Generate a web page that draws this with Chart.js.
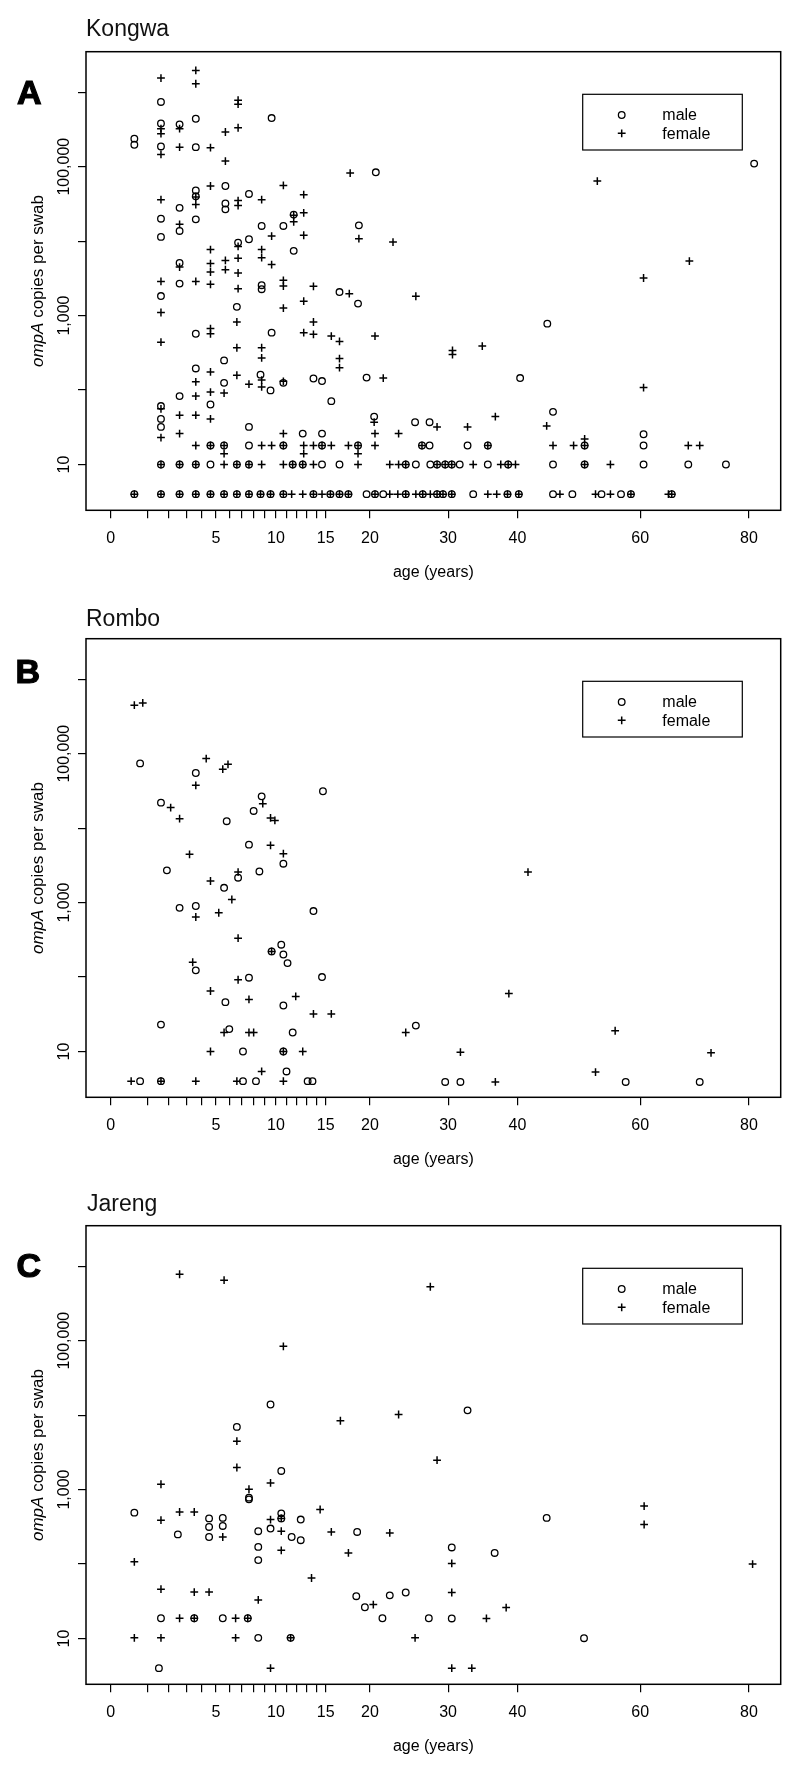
<!DOCTYPE html>
<html><head><meta charset="utf-8">
<script src="https://cdn.jsdelivr.net/npm/chart.js@4.4.1/dist/chart.umd.min.js"></script>
<style>
html,body{margin:0;padding:0;background:#fff;}
body{width:800px;height:1773px;position:relative;overflow:hidden;font-family:"Liberation Sans",Arial,Helvetica,sans-serif;color:#000;}
canvas{position:absolute;left:0;}
.ttl{position:absolute;font-size:23px;line-height:1;white-space:nowrap;color:#111;}
.ltr{position:absolute;font-size:34px;font-weight:bold;line-height:1;-webkit-text-stroke:1.2px #000;}
.ylab{position:absolute;font-size:17px;line-height:1;white-space:nowrap;transform:translate(-50%,-50%) rotate(-90deg);}
</style></head><body>
<canvas id="cA" width="800" height="587" style="top:0px"></canvas>
<canvas id="cB" width="800" height="587" style="top:587px"></canvas>
<canvas id="cC" width="800" height="587" style="top:1174px"></canvas>

<div class="ttl" style="left:86px;top:16.7px">Kongwa</div>
<div class="ttl" style="left:86px;top:607.2px">Rombo</div>
<div class="ttl" style="left:87px;top:1191.7px">Jareng</div>
<div class="ltr" style="left:17px;top:74.6px">A</div>
<div class="ltr" style="left:15.5px;top:653.6px">B</div>
<div class="ltr" style="left:16.5px;top:1247.9px">C</div>
<div class="ylab" style="left:37px;top:281px"><i>ompA</i> copies per swab</div>
<div class="ylab" style="left:37px;top:868px"><i>ompA</i> copies per swab</div>
<div class="ylab" style="left:37px;top:1455px"><i>ompA</i> copies per swab</div>

<script>
// ---------- axis ticks ----------
const AGE_TICKS = [0,1,2,3,4,5,6,7,8,9,10,11,12,13,14,15,20,30,40,60,80];
const AGE_LABELS = [0,5,10,15,20,30,40,60,80];
const COPY_TICKS = [10,100,1000,10000,100000,1000000];
const COPY_TICK_LABELS = ['10','','1,000','','100,000',''];

// ---------- Kongwa (A) ----------
const kongwaMaleAge = [
 1.6,3.6,9.6,1.6,2.6,0.5,0.5,1.6,3.6,20.7,
 5.7,3.6,3.6,7.6,2.6,5.7,5.7,1.6,2.6,3.6,
 11.7,8.7,10.7,18.7,1.6,6.7,7.6,11.7,2.6,2.6,
 8.7,8.7,16.5,18.6,1.6,6.6,3.6,9.6,5.6,3.6,
 8.6,5.6,10.7,13.7,14.6,19.6,9.5,2.6,15.6,1.6,
 4.6,1.6,1.6,7.6,12.6,14.6,20.5,25.6,27.5,44.6,
 40.4,45.5,60.6,81.0,
 4.6,5.6,7.6,10.7,14.6,18.6,26.5,27.5,32.7,35.6,50.6,60.6,
 1.6,2.6,3.6,4.6,6.6,7.6,11.6,12.6,14.6,16.5,24.4,25.7,27.6,28.5,29.6,30.5,31.6,35.6,38.6,45.5,50.6,60.6,68.6,75.6,
 0.5,1.6,2.6,3.6,4.6,5.6,6.6,7.6,8.6,9.5,10.7,13.7,15.5,16.5,17.5,19.6,20.6,21.6,24.4,26.6,28.5,29.3,30.5,33.5,38.5,40.2,45.5,48.6,53.4,56.7,58.4,65.6
];
const kongwaMaleCopies = [
 7.4e5,4.4e5,4.5e5,3.8e5,3.7e5,2.38e5,1.97e5,1.87e5,1.83e5,8.4e4,
 5.5e4,4.8e4,4.0e4,4.3e4,2.8e4,3.2e4,2.67e4,2.0e4,1.37e4,1.96e4,
 2.27e4,1.6e4,1.6e4,1.63e4,1.14e4,9550,1.06e4,7400,5100,2690,
 2560,2260,2070,1450,1830,1310,570,590,250,195,
 161,125,125,143,132,147,99,83,71,61,
 64,41,32,32,26,26,44,37,37,780,
 145,51,25.5,1.1e5,
 18,18,18,18,18,18,18,18,18,18,18,18,
 10,10,10,10,10,10,10,10,10,10,10,10,10,10,10,10,10,10,10,10,10,10,10,10,
 4,4,4,4,4,4,4,4,4,4,4,4,4,4,4,4,4,4,4,4,4,4,4,4,4,4,4,4,4,4,4,4
];
const kongwaFemaleAge = [
 1.6,3.6,3.6,6.7,6.7,1.6,1.6,2.6,5.7,6.7,
 1.6,2.6,4.6,5.7,17.7,4.6,10.7,3.6,3.6,8.7,
 12.7,1.6,6.7,6.7,2.6,11.7,11.7,12.7,18.7,12.7,
 9.6,6.7,22.8,4.6,8.7,8.7,6.7,2.6,4.6,4.6,
 5.7,5.7,6.7,9.6,1.6,3.6,4.6,6.7,10.7,10.7,
 13.7,17.6,25.7,1.6,1.6,6.6,6.6,6.6,4.6,4.6,
 10.7,12.7,12.7,13.7,13.7,15.6,16.5,20.6,8.7,8.7,
 16.5,16.5,4.6,8.7,8.7,3.6,7.6,10.7,21.6,5.6,
 4.6,3.6,1.6,2.6,3.6,4.6,1.6,2.6,10.7,20.5,
 20.6,23.5,28.5,30.6,30.6,34.8,60.6,36.7,44.5,32.7,
 50.6,52.7,68.8,60.6,
 3.6,4.6,5.6,8.7,9.6,10.7,12.7,13.7,14.6,15.6,17.5,18.6,20.6,26.5,35.6,45.5,48.8,50.6,68.6,70.7,
 5.6,12.7,18.6,
 1.6,2.6,3.6,5.6,6.6,7.6,8.7,10.7,11.6,12.6,13.7,18.6,22.4,23.5,24.4,28.5,29.6,30.5,33.5,37.5,38.6,39.7,50.6,54.9,
 0.5,1.6,2.6,3.6,4.6,5.6,6.6,7.6,8.6,9.5,10.7,11.5,12.6,13.7,14.6,15.5,16.5,17.5,20.6,22.4,23.4,24.4,25.7,26.6,27.6,28.5,29.3,30.5,35.6,36.9,38.5,40.2,46.6,52.4,54.9,58.4,65.0,65.6
];
const kongwaFemaleCopies = [
 1.55e6,1.96e6,1.30e6,7.8e5,6.9e5,3.24e5,2.77e5,3.24e5,2.92e5,3.33e5,
 1.46e5,1.83e5,1.8e5,1.19e5,8.2e4,5.5e4,5.6e4,3.9e4,3.1e4,3.6e4,
 4.2e4,3.6e4,3.5e4,3.0e4,1.68e4,2.22e4,1.82e4,2.4e4,1.08e4,1.2e4,
 1.17e4,8500,9700,7700,7700,6000,5900,4490,5000,3850,
 5500,4140,3730,4840,2880,2880,2630,2300,2980,2490,
 2470,1970,1820,1100,440,820,370,158,670,570,
 1260,1560,590,820,560,530,450,530,370,270,
 265,200,175,136,110,129,120,131,145,91,
 94,83,56,46,46,41,23,26,26,37,
 26,26,32,340,300,390,108,44,33,32,
 22,6.4e4,5400,3200,
 18,18,18,18,18,18,18,18,18,18,18,18,18,18,18,18,18,18,18,18,
 14,14,14,
 10,10,10,10,10,10,10,10,10,10,10,10,10,10,10,10,10,10,10,10,10,10,10,10,
 4,4,4,4,4,4,4,4,4,4,4,4,4,4,4,4,4,4,4,4,4,4,4,4,4,4,4,4,4,4,4,4,4,4,4,4,4,4
];

// ---------- Rombo (B) ----------
const romboMaleAge = [
 0.7,3.6,8.7,14.7,1.6,5.8,8.0,7.6,10.7,1.9,
 8.5,6.7,5.6,2.6,3.6,13.7,10.5,9.6,10.7,11.1,
 3.6,7.6,14.6,5.7,10.7,1.6,6.0,11.6,25.7,7.1,
 10.7,11.0,0.7,1.6,7.1,8.2,13.1,13.6,29.6,31.7,
 57.5,70.7
];
const romboMaleCopies = [
 7.4e4,5.5e4,2.67e4,3.13e4,2.2e4,1.24e4,1.7e4,6000,3330,2710,
 2620,2160,1580,850,900,770,272,221,201,154,
 123,98,100,46,41.5,23,20,18,22.3,10,
 10,5.4,4,4,4,4,4,4,3.9,3.9,
 3.9,3.9
];
const romboFemaleAge = [
 0.5,0.8,4.3,3.6,5.5,5.9,8.8,2.1,2.6,9.5,
 9.9,9.5,3.2,10.7,6.7,4.6,6.2,3.6,5.2,6.7,
 9.6,3.4,6.7,4.6,7.6,11.9,13.7,15.6,5.6,7.6,
 8.0,24.4,4.6,10.7,12.6,8.7,0.4,1.6,3.6,6.6,
 10.7,41.6,38.7,55.7,31.7,72.8,52.4,36.7
];
const romboFemaleCopies = [
 4.48e5,4.8e5,8.6e4,3.76e4,6.2e4,7.2e4,2.13e4,1.89e4,1.34e4,1.37e4,
 1.27e4,5870,4450,4540,2570,1950,1100,640,730,333,
 221,158,92,65,50,55,32,32,18,18,
 18,18,10,10,10,5.4,4,4,4,4,
 4,2570,60,19,9.8,9.6,5.3,3.9
];

// ---------- Jareng (C) ----------
const jarengMaleAge = [
 9.5,6.6,10.5,32.7,7.6,7.6,0.5,4.5,4.5,4.5,
 5.5,5.5,2.5,8.4,9.5,10.5,10.5,11.5,12.4,12.4,
 18.5,8.4,8.4,18.4,19.4,22.4,24.4,21.5,27.4,1.6,
 3.5,5.5,7.5,8.4,11.4,1.5,44.5,30.5,36.6,30.5,
 50.5
];
const jarengMaleCopies = [
 1.39e4,6950,1780,1.16e4,780,740,490,410,315,231,
 417,325,250,276,300,480,410,231,396,209,
 270,170,113,37,26.3,38,41.5,18.7,18.7,18.7,
 18.7,18.7,18.7,10.2,10.2,4,417,167,141,18.6,
 10.1
];
const jarengFemaleAge = [
 2.6,5.6,27.6,10.7,16.6,23.5,6.6,6.6,28.5,1.6,
 7.6,9.5,1.6,2.6,3.5,5.5,9.5,10.5,10.5,10.5,
 14.4,15.6,22.4,17.5,13.5,0.5,1.6,3.5,4.5,8.4,
 20.4,2.6,3.5,6.5,7.5,0.5,1.6,6.5,11.4,25.6,
 9.5,60.7,60.7,30.5,80.7,30.5,38.3,35.4,30.5,33.3
];
const jarengFemaleCopies = [
 7.8e5,6.5e5,5.3e5,8.4e4,8400,1.02e4,4470,1980,2480,1180,
 1010,1230,388,500,500,231,396,410,276,153,
 540,270,262,141,65,107,46,42,42,33,
 28.6,18.7,18.7,18.7,18.7,10.2,10.2,10.2,10.2,10.2,
 4,600,340,102,100,41.5,26,18.6,4,4
];

// ---------- power (age^0.65) scale ----------
const POW = 0.65;
const fwd = v => Math.sign(v) * Math.pow(Math.abs(v), POW);
const inv = t => Math.sign(t) * Math.pow(Math.abs(t), 1 / POW);
const LinearScale = Chart.LinearScale || Chart.registry.getScale('linear');
class PowerScale extends LinearScale {
  configure() {
    super.configure();
    this._tMin = fwd(this.min);
    this._tMax = fwd(this.max);
  }
  getPixelForValue(value) {
    if (value === null || value === undefined || isNaN(value)) return NaN;
    return this.getPixelForDecimal((fwd(value) - this._tMin) / (this._tMax - this._tMin));
  }
  getValueForPixel(pixel) {
    return inv(this._tMin + this.getDecimalForPixel(pixel) * (this._tMax - this._tMin));
  }
}
PowerScale.id = 'power';
PowerScale.defaults = LinearScale.defaults;
Chart.register(PowerScale);

const FONT = '"Liberation Sans", Arial, Helvetica, sans-serif';

const framePlugin = {
  id: 'frame',
  afterDraw(chart) {
    const {ctx, chartArea: a} = chart;
    ctx.save();
    ctx.strokeStyle = '#000';
    ctx.lineWidth = 1.5;
    ctx.strokeRect(a.left, a.top, a.right - a.left, a.bottom - a.top);
    const w = 159.6, h = 55.7;
    const lx = a.right - 38.4 - w, ly = a.top + 42.6;
    ctx.lineWidth = 1.2;
    ctx.strokeRect(lx, ly, w, h);
    ctx.font = '16px ' + FONT;
    ctx.textBaseline = 'middle';
    ctx.textAlign = 'left';
    ctx.fillStyle = '#000';
    chart.data.datasets.forEach((ds, i) => {
      const y = ly + (i === 0 ? 20.7 : 39);
      const x = lx + 39;
      const r = ds.pointRadius;
      ctx.lineWidth = ds.borderWidth;
      ctx.beginPath();
      if (ds.pointStyle === 'circle') {
        ctx.arc(x, y, r, 0, Math.PI * 2);
      } else {
        ctx.moveTo(x - r, y); ctx.lineTo(x + r, y);
        ctx.moveTo(x, y - r); ctx.lineTo(x, y + r);
      }
      ctx.stroke();
      ctx.fillText(ds.label, lx + 79.6, y + 1);
    });
    ctx.restore();
  }
};

function makeChart(id, mAge, mCopies, fAge, fCopies) {
  const toPts = (ages, copies) => ages.map((x, i) => ({x: x, y: copies[i]}));
  return new Chart(document.getElementById(id), {
    type: 'scatter',
    data: {
      datasets: [
        {label: 'male', data: toPts(mAge, mCopies), pointStyle: 'circle', pointRadius: 3.3,
         borderColor: '#000', backgroundColor: 'rgba(0,0,0,0)', borderWidth: 1.3},
        {label: 'female', data: toPts(fAge, fCopies), pointStyle: 'cross', pointRadius: 3.9,
         borderColor: '#000', backgroundColor: '#000', borderWidth: 1.5}
      ]
    },
    options: {
      responsive: false, animation: false, devicePixelRatio: 1, events: [],
      layout: {padding: {top: 51.7, right: 19.3, left: 0, bottom: 0}},
      plugins: {legend: {display: false}, tooltip: {enabled: false}},
      scales: {
        x: {
          type: 'power', position: 'bottom', min: -0.54, max: 86.2, bounds: 'data',
          afterFit: s => { s.height = 76.7; },
          afterBuildTicks: s => { s.ticks = AGE_TICKS.map(v => ({value: v})); },
          ticks: {autoSkip: false, maxRotation: 0, minRotation: 0, padding: 11, color: '#000',
                  font: {family: FONT, size: 16},
                  callback: v => AGE_LABELS.includes(v) ? String(v) : ''},
          grid: {display: true, drawOnChartArea: false, drawTicks: true, tickLength: 8, color: '#000', lineWidth: 1.2},
          border: {display: false},
          title: {display: true, text: 'age (years)', color: '#000', font: {family: FONT, size: 16},
                  padding: {top: 0, bottom: 4.4}}
        },
        y: {
          type: 'logarithmic', position: 'left', min: 2.427, max: 3.5e6, bounds: 'data',
          afterFit: s => { s.width = 86; },
          afterBuildTicks: s => { s.ticks = COPY_TICKS.map(v => ({value: v})); },
          ticks: {autoSkip: false, minRotation: 90, maxRotation: 90, crossAlign: 'center', padding: -15.4,
                  color: '#000', font: {family: FONT, size: 16},
                  callback: (v, i) => COPY_TICK_LABELS[i]},
          grid: {display: true, drawOnChartArea: false, drawTicks: true, tickLength: 8, color: '#000', lineWidth: 1.2},
          border: {display: false}
        }
      }
    },
    plugins: [framePlugin]
  });
}

makeChart('cA', kongwaMaleAge, kongwaMaleCopies, kongwaFemaleAge, kongwaFemaleCopies);
makeChart('cB', romboMaleAge, romboMaleCopies, romboFemaleAge, romboFemaleCopies);
makeChart('cC', jarengMaleAge, jarengMaleCopies, jarengFemaleAge, jarengFemaleCopies);
</script>
</body></html>
